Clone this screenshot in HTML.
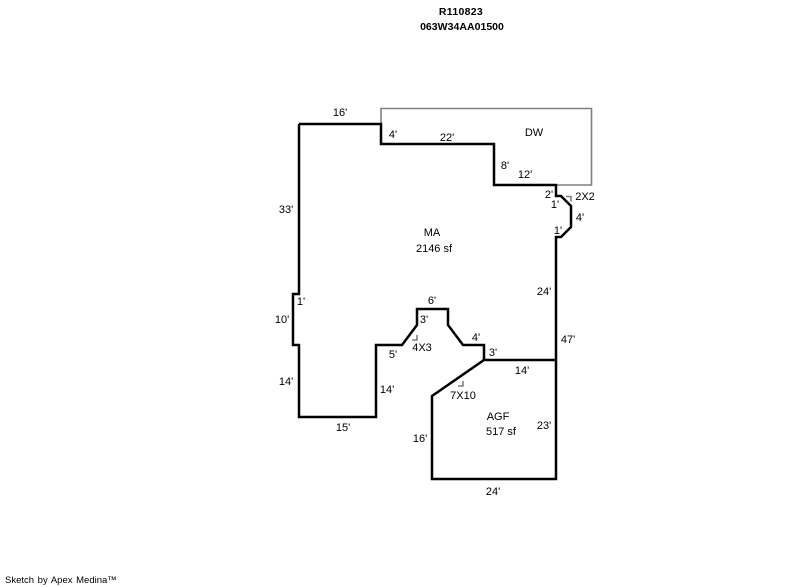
<!DOCTYPE html>
<html>
<head>
<meta charset="utf-8">
<style>
html,body{margin:0;padding:0;background:#fff;width:800px;height:587px;overflow:hidden}
svg{display:block}
text{font-family:"Liberation Sans",Arial,sans-serif;font-size:11px;fill:#000;text-anchor:middle}
.b{font-weight:bold;font-size:10.5px}
</style>
</head>
<body>
<svg width="800" height="587" viewBox="0 0 800 587" xmlns="http://www.w3.org/2000/svg">
<g fill="none" stroke="#808080" stroke-width="1.6">
<path d="M381 124V108.500H591.500V185H556"/>
<path d="M566 196.500H571V201.500M412 340H417V335M458 386H463V381"/>
</g>
<g fill="none" stroke="#000" stroke-width="2.5" stroke-linejoin="miter">
<path d="M299 124H381V144H494V185H556V196H561L571 206V227L561 237H556V479H432V396L484 360H556"/>
<path d="M484 360V345H463L448 325V309H417V325L402 345H376V417H299V345H293V294H299V124"/>
</g>
<text class="b" x="461" y="15" style="letter-spacing:.3px">R110823</text>
<text class="b" x="462" y="30" style="letter-spacing:.03px">063W34AA01500</text>
<text x="340" y="116">16'</text>
<text x="393" y="138">4'</text>
<text x="447" y="141">22'</text>
<text x="534" y="136">DW</text>
<text x="505" y="169">8'</text>
<text x="525" y="178">12'</text>
<text x="549" y="198">2'</text>
<text x="585" y="200">2X2</text>
<text x="555" y="208">1'</text>
<text x="580" y="221">4'</text>
<text x="558" y="234">1'</text>
<text x="286" y="213">33'</text>
<text x="432" y="236">MA</text>
<text x="434" y="252">2146 sf</text>
<text x="544" y="295">24'</text>
<text x="301" y="305">1'</text>
<text x="432" y="304">6'</text>
<text x="282" y="323">10'</text>
<text x="424" y="323">3'</text>
<text x="476" y="341">4'</text>
<text x="568" y="343">47'</text>
<text x="422" y="351">4X3</text>
<text x="393" y="358">5'</text>
<text x="493" y="356">3'</text>
<text x="522" y="374">14'</text>
<text x="286" y="385">14'</text>
<text x="387" y="393">14'</text>
<text x="463" y="399">7X10</text>
<text x="498" y="420">AGF</text>
<text x="501" y="435">517 sf</text>
<text x="544" y="429">23'</text>
<text x="343" y="431">15'</text>
<text x="420" y="442">16'</text>
<text x="493" y="495">24'</text>
<text x="5" y="583" style="text-anchor:start;font-size:9.5px;word-spacing:1px">Sketch by Apex Medina™</text>
</svg>
</body>
</html>
